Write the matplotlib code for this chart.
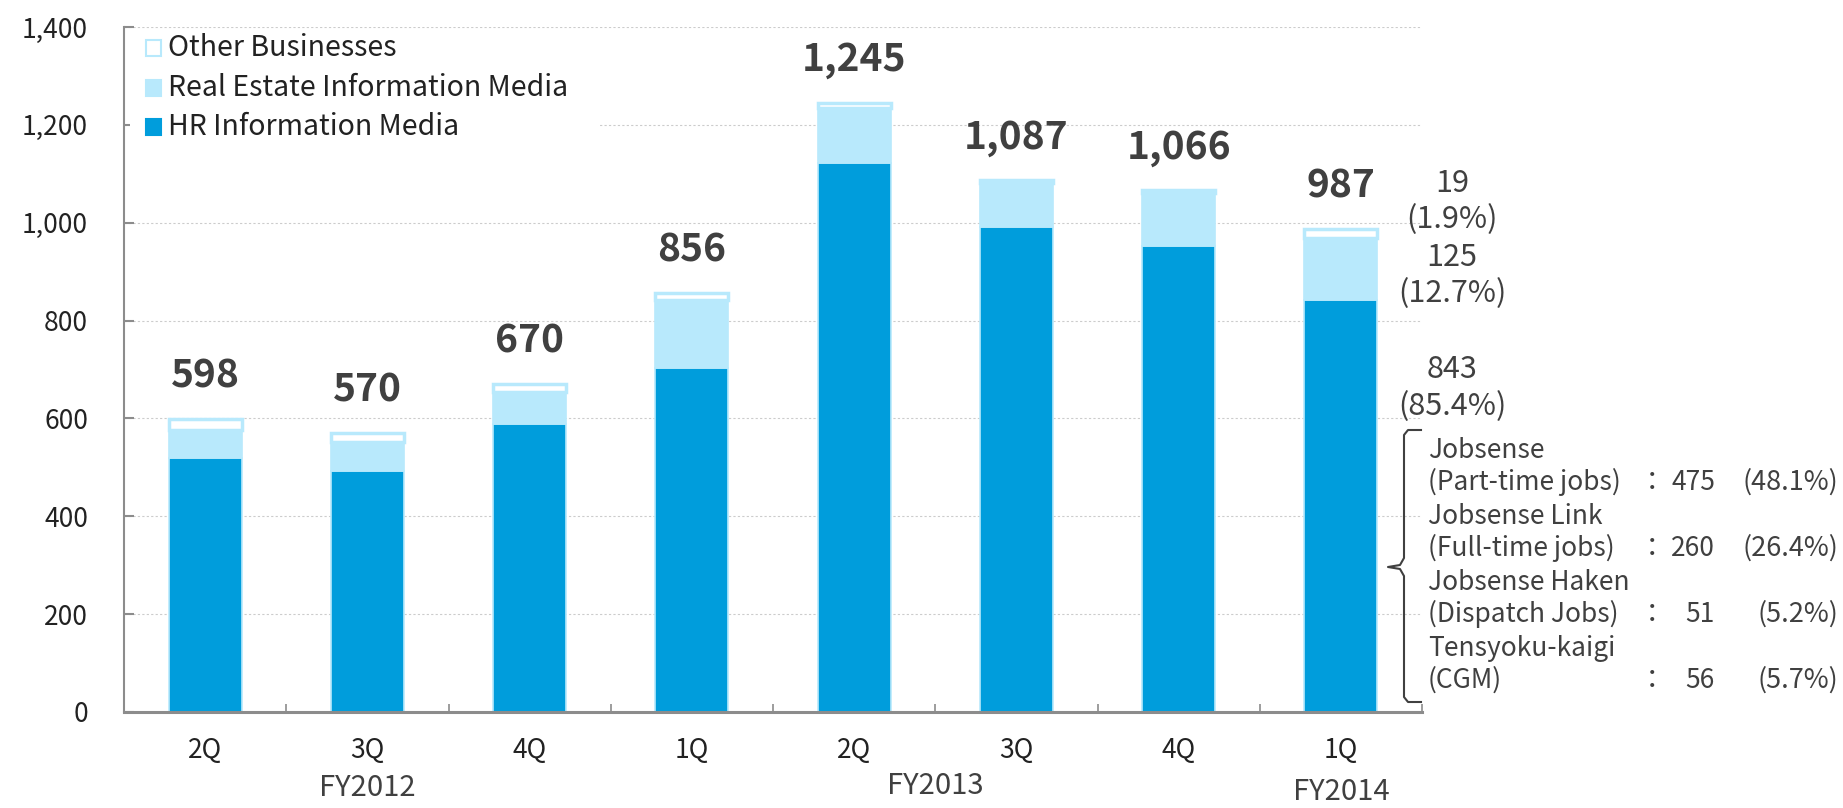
import numpy as np
import matplotlib
matplotlib.use("Agg")
import matplotlib.pyplot as plt
import matplotlib.transforms as mtransforms
from matplotlib.patches import Rectangle
from matplotlib.lines import Line2D

# data (billion yen)
quarters = ["2Q", "3Q", "4Q", "1Q", "2Q", "3Q", "4Q", "1Q"]
fiscal_years = ["FY2012", "FY2013", "FY2014"]
fy_centers = [1, 4.5, 7]
hr_media = [520, 493, 588, 704, 1122, 991, 952, 843]
real_estate = [57, 59, 67, 138, 113, 90, 108, 125]
other_biz = [21, 18, 15, 14, 10, 6, 6, 19]
totals = [598, 570, 670, 856, 1245, 1087, 1066, 987]
series_names = ["Other Businesses", "Real Estate Information Media", "HR Information Media"]

hr_names = ["Jobsense", "Jobsense Link", "Jobsense Haken", "Tensyoku-kaigi"]
hr_subs = ["(Part-time jobs)", "(Full-time jobs)", "(Dispatch Jobs)", "(CGM)"]
hr_values = [475, 260, 51, 56]
hr_shares = [48.1, 26.4, 5.2, 5.7]

yticks = np.arange(0, 1401, 200)

C_HR = "#009DDC"
C_RE = "#B8E9FC"
C_OT = "#FFFFFF"
C_EDGE = "#B8E9FC"
C_TXT = "#404040"
C_AX = "#8C8C8C"

plt.rcParams["font.family"] = ["Noto Sans CJK JP", "DejaVu Sans"]

W, H = 1843, 808
fig = plt.figure(figsize=(W / 100, H / 100), dpi=100)


def fx(px):
    return px / W


def fy(py):
    return 1 - py / H


ax = fig.add_axes([fx(124), 96 / H, (1422 - 124) / W, (781 - 96) / H])
ax.set_xlim(-0.5, 7.5)
ax.set_ylim(0, 1400)

x = np.arange(len(quarters))
bw = 0.45
hr = np.array(hr_media)
re = np.array(real_estate)
ot = np.array(other_biz)
ax.bar(x, hr, bw, color=C_HR, edgecolor=C_EDGE, linewidth=1.2, zorder=2)
ax.bar(x, re, bw, bottom=hr, color=C_RE, edgecolor=C_EDGE, linewidth=1.2, zorder=2)
ax.bar(x, ot, bw, bottom=hr + re, color=C_OT, edgecolor=C_EDGE, linewidth=2.5, zorder=2)

for i, t in enumerate(totals):
    ax.annotate(f"{t:,}", (i, t), xytext=(0, 31), textcoords="offset points",
                ha="center", va="center", fontsize=28, fontweight="bold", color=C_TXT)

# axes styling
ax.set_axisbelow(True)
ax.set_yticks(yticks)
ax.set_yticklabels([f"{v:,}" for v in yticks])
ax.yaxis.grid(True, color="#CCCCCC", linestyle=(0, (2, 2)), linewidth=0.8)
ax.tick_params(axis="y", direction="in", length=7, width=1.5, color=C_AX,
               labelsize=19, labelcolor="#222222", pad=26)
ax.set_xticks(np.arange(-0.5, 8, 1))
ax.set_xticklabels([])
ax.set_xticks(x, minor=True)
ax.set_xticklabels(quarters, minor=True)
ax.tick_params(axis="x", which="major", direction="in", length=6, width=1.2, color=C_AX)
ax.tick_params(axis="x", which="minor", length=0, labelsize=19, labelcolor="#222222", pad=18)
for s in ["top", "right"]:
    ax.spines[s].set_visible(False)
ax.spines["left"].set_color(C_AX)
ax.spines["left"].set_linewidth(1.5)
ax.spines["bottom"].set_color(C_AX)
ax.spines["bottom"].set_linewidth(2.2)

# fiscal year labels
trans = mtransforms.blended_transform_factory(ax.transData, fig.transFigure)
for lab, cx, py in zip(fiscal_years, fy_centers, [788, 786, 792]):
    ax.text(cx, fy(py), lab, transform=trans, ha="center", va="center",
            fontsize=21, color=C_TXT)

# legend (drawn by hand)
ax.add_patch(Rectangle((fx(130), fy(146)), fx(600) - fx(130), fy(33) - fy(146),
                       transform=fig.transFigure, facecolor="white", edgecolor="none",
                       zorder=1.5, clip_on=False))
leg_fill = [C_OT, C_RE, C_HR]
leg_edge = [C_EDGE, C_RE, C_HR]
for name, fc, ec, py in zip(series_names, leg_fill, leg_edge, [48, 88, 127]):
    fig.add_artist(Rectangle((fx(146), fy(py + 8)), fx(161) - fx(146), fy(py - 8) - fy(py + 8),
                             transform=fig.transFigure, facecolor=fc, edgecolor=ec, linewidth=1.5))
    fig.text(fx(168), fy(py), name, ha="left", va="center", fontsize=20.5, color="#222222")

# breakdown of the latest quarter
last = [other_biz[-1], real_estate[-1], hr_media[-1]]
for v, py in zip(last, [183, 257, 370]):
    fig.text(fx(1452), fy(py), f"{v}", ha="center", va="center", fontsize=22, color=C_TXT)
    fig.text(fx(1452), fy(py + 37), f"({v / totals[-1] * 100:.1f}%)", ha="center",
             va="center", fontsize=22, color=C_TXT)

for k in range(len(hr_names)):
    py = 450 + 66 * k
    fig.text(fx(1428), fy(py), hr_names[k], ha="left", va="center", fontsize=19, color=C_TXT)
    fig.text(fx(1428), fy(py + 32), hr_subs[k], ha="left", va="center", fontsize=19, color=C_TXT)
    fig.text(fx(1652), fy(py + 32), "：", ha="center", va="center", fontsize=19, color=C_TXT)
    fig.text(fx(1715), fy(py + 32), f"{hr_values[k]}", ha="right", va="center",
             fontsize=19, color=C_TXT)
    fig.text(fx(1838), fy(py + 32), f"({hr_shares[k]:.1f}%)", ha="right", va="center",
             fontsize=19.5, color=C_TXT)

# bracket
bx = [1421, 1408, 1404, 1404, 1400, 1388, 1400, 1404, 1404, 1408, 1421]
by = [430, 430, 435, 558, 565, 567, 569, 576, 697, 702, 702]
fig.add_artist(Line2D([fx(v) for v in bx], [fy(v) for v in by], color=C_TXT,
                      linewidth=1.5, transform=fig.transFigure))

fig.savefig("out.png", dpi=100)
